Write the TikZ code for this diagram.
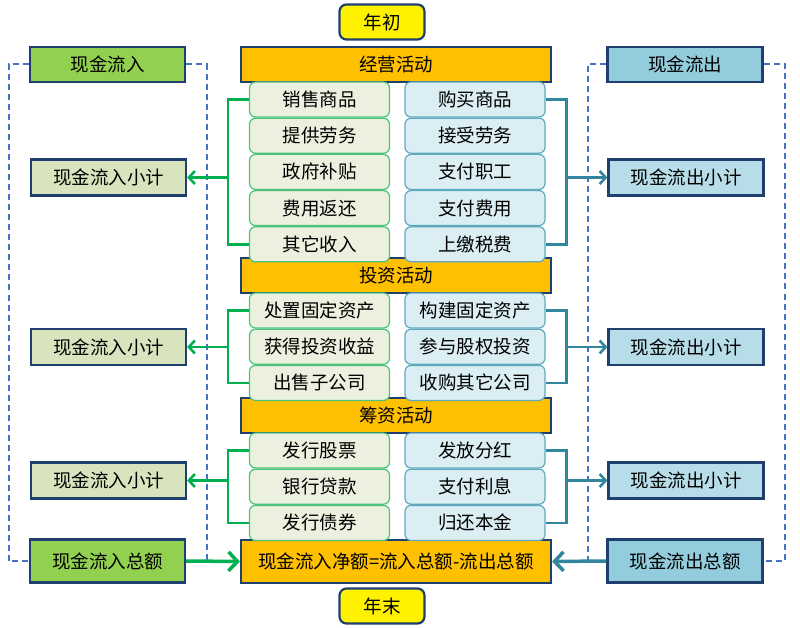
\documentclass[tikz,border=0pt]{standalone}
\usepackage{fontspec}
\setmainfont{Noto Sans CJK SC}
\usepackage{tikz}
\usetikzlibrary{positioning, arrows.meta}

\definecolor{navy}{HTML}{1F3F6E}
\definecolor{actorange}{HTML}{FFC000}
\definecolor{inhead}{HTML}{92D050}
\definecolor{insub}{HTML}{D7E4BD}
\definecolor{initem}{HTML}{EBF1DE}
\definecolor{ingreen}{HTML}{00B050}
\definecolor{initemline}{HTML}{4CC27E}
\definecolor{outhead}{HTML}{93CDDD}
\definecolor{outsub}{HTML}{B7DEE8}
\definecolor{outitem}{HTML}{DAEEF3}
\definecolor{outteal}{HTML}{31859C}
\definecolor{outitemline}{HTML}{5FA9BE}
\definecolor{dashblue}{HTML}{4472C4}

\begin{document}
\begin{tikzpicture}[
                    x=1pt, y=-1pt,
                    every node/.style={font=\fontsize{18.5}{20}\selectfont, inner sep=0pt, text=black},
                    yearbox/.style={draw=navy, line width=2.2pt, fill=yellow, rounded corners=7pt, minimum width=85pt, minimum height=35pt},
                    actbox/.style={draw=navy, line width=2.2pt, fill=actorange, minimum width=310pt, minimum height=35pt},
                    initembox/.style={draw=initemline, line width=1.2pt, fill=initem, rounded corners=6pt, minimum width=140pt, minimum height=35pt},
                    outitembox/.style={draw=outitemline, line width=1.2pt, fill=outitem, rounded corners=6pt, minimum width=140pt, minimum height=35pt},
                    sumbox/.style={draw=navy, line width=2.2pt, minimum width=155pt, minimum height=36pt},
                    inline/.style={draw=ingreen, line width=2.8pt},
                    outline/.style={draw=outteal, line width=2.6pt},
                    dashline/.style={draw=dashblue, line width=2pt, dash pattern=on 6pt off 4pt},
                    tip/.style={-{Straight Barb[length=6pt, width=13pt, line width=2.6pt]}},
                    bigtip/.style={-{Straight Barb[length=9pt, width=19pt, line width=3.5pt]}}
                ]
  \useasboundingbox (0,0) rectangle (800,628);

  % years and activity headers
  \node[yearbox] (start) at (382,22) {年初};
  \node[actbox] (oper) at (396,64.5) {经营活动};
  \node[actbox] (inv) at (396,275.5) {投资活动};
  \node[actbox] (fin) at (396,415.5) {筹资活动};
  \node[actbox, minimum height=43pt] (net) at (396,561.5) {现金流入净额=流入总额-流出总额};
  \node[yearbox] (end) at (382,606) {年末};

  % operating items
  \node[initembox] (o1) at (319.5,99.5) {销售商品};
  \node[initembox, below=0pt of o1] (o2) {提供劳务};
  \node[initembox, below=0pt of o2] (o3) {政府补贴};
  \node[initembox, below=0pt of o3] (o4) {费用返还};
  \node[initembox, below=0pt of o4] (o5) {其它收入};
  \node[outitembox] (p1) at (475,99.5) {购买商品};
  \node[outitembox, below=0pt of p1] (p2) {接受劳务};
  \node[outitembox, below=0pt of p2] (p3) {支付职工};
  \node[outitembox, below=0pt of p3] (p4) {支付费用};
  \node[outitembox, below=0pt of p4] (p5) {上缴税费};

  % investing items
  \node[initembox] (i1) at (319.5,310.5) {处置固定资产};
  \node[initembox, below=0pt of i1] (i2) {获得投资收益};
  \node[initembox, below=0pt of i2] (i3) {出售子公司};
  \node[outitembox] (j1) at (475,310.5) {构建固定资产};
  \node[outitembox, below=0pt of j1] (j2) {参与股权投资};
  \node[outitembox, below=0pt of j2] (j3) {收购其它公司};

  % financing items
  \node[initembox] (f1) at (319.5,450.5) {发行股票};
  \node[initembox, below=0pt of f1] (f2) {银行贷款};
  \node[initembox, below=0pt of f2] (f3) {发行债券};
  \node[outitembox] (g1) at (475,450.5) {发放分红};
  \node[outitembox, below=0pt of g1] (g2) {支付利息};
  \node[outitembox, below=0pt of g2] (g3) {归还本金};

  % inflow column
  \node[sumbox, fill=inhead, minimum height=35pt] (inflow) at (107.5,64.5) {现金流入};
  \node[sumbox, fill=insub] (insub1) at (108.5,177.5) {现金流入小计};
  \node[sumbox, fill=insub] (insub2) at (108.5,347) {现金流入小计};
  \node[sumbox, fill=insub] (insub3) at (108.5,480.5) {现金流入小计};
  \node[sumbox, fill=inhead, minimum height=43pt] (intotal) at (107.5,561) {现金流入总额};

  % outflow column
  \node[sumbox, fill=outhead, minimum height=35pt] (outflow) at (685,64.5) {现金流出};
  \node[sumbox, fill=outsub] (outsub1) at (686,177.5) {现金流出小计};
  \node[sumbox, fill=outsub] (outsub2) at (686,347) {现金流出小计};
  \node[sumbox, fill=outsub] (outsub3) at (686,480.5) {现金流出小计};
  \node[sumbox, fill=outhead, minimum height=43pt] (outtotal) at (685,561) {现金流出总额};

  % dashed frames
  \coordinate (indash) at (207,561);
  \coordinate (outdash) at (588,561);
  \draw[dashline] (inflow.west) -- ++(-20,0) |- (intotal.west);
  \draw[dashline] (inflow.east) -| (indash);
  \draw[dashline] (outflow.east) -- ++(21,0) |- (outtotal.east);
  \draw[dashline] (outflow.west) -| (outdash);

  % brackets to subtotals
  \coordinate (ob1) at ([xshift=-21pt]o1.west |- insub1.east);
  \coordinate (ib1) at ([xshift=-21pt]i1.west |- insub2.east);
  \coordinate (fb1) at ([xshift=-21pt]f1.west |- insub3.east);
  \draw[inline] (o1.west) -| (ob1) |- (o5.west);
  \draw[inline] (i1.west) -| (ib1) |- (i3.west);
  \draw[inline] (f1.west) -| (fb1) |- (f3.west);
  \draw[inline, tip] (ob1) -- (insub1.east);
  \draw[inline, tip] (ib1) -- (insub2.east);
  \draw[inline, tip] (fb1) -- (insub3.east);

  \coordinate (pb1) at ([xshift=21pt]p1.east |- outsub1.west);
  \coordinate (jb1) at ([xshift=21pt]j1.east |- outsub2.west);
  \coordinate (gb1) at ([xshift=21pt]g1.east |- outsub3.west);
  \draw[outline] (p1.east) -| (pb1) |- (p5.east);
  \draw[outline] (j1.east) -| (jb1) |- (j3.east);
  \draw[outline] (g1.east) -| (gb1) |- (g3.east);
  \draw[outline, tip] (pb1) -- (outsub1.west);
  \draw[outline, tip] (jb1) -- (outsub2.west);
  \draw[outline, tip] (gb1) -- (outsub3.west);

  % totals into net amount
  \draw[inline, line width=3.5pt, bigtip] (intotal.east) -- (net.west);
  \draw[outline, line width=3.5pt, bigtip] (outtotal.west) -- (net.east);
\end{tikzpicture}
\end{document}
